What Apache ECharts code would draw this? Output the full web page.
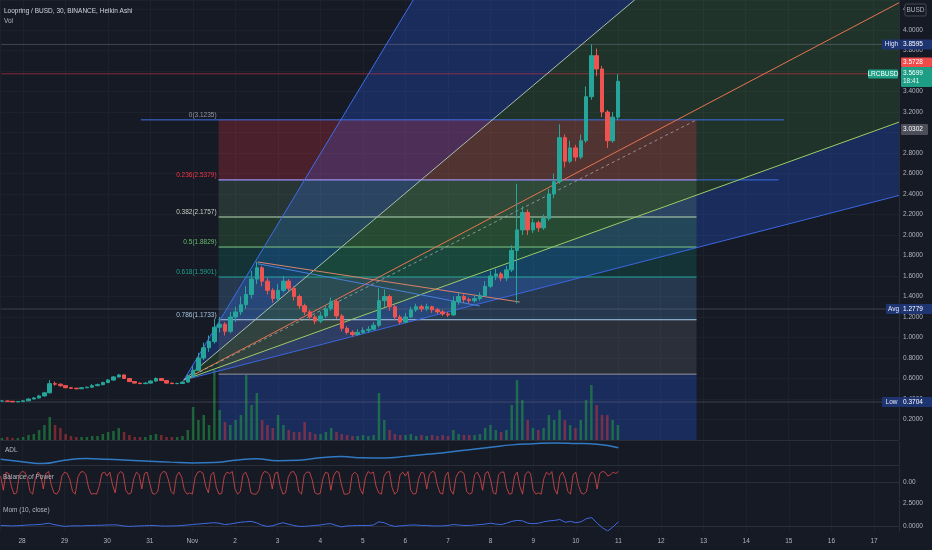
<!DOCTYPE html>
<html><head><meta charset="utf-8">
<script src="https://cdn.jsdelivr.net/npm/echarts@6/dist/echarts.min.js"></script>
<style>html,body{margin:0;padding:0;background:#161a25;}#c{width:932px;height:550px;}</style>
</head><body><div id="c"></div>
<script>
const DAY = 86400000;
const BASE = new Date(2021, 9, 28).getTime();           // Oct 28 2021 00:00
const T = d => BASE + d * DAY;                           // days since Oct 28 -> time
const monthLabels = ['Jan','Feb','Mar','Apr','May','Jun','Jul','Aug','Sep','Oct','Nov','Dec'];

// visible range
const viewStartDay = -0.5164, viewEndDay = 20.587;
const priceMin = 0, priceMax = 4.293, priceInterval = 0.2;

// Heikin Ashi candles, 3h each from Oct 27 12:00 : [open, close, low, high]
const candleStart = new Date(2021, 9, 27, 12).getTime();
const candleStep = 3 * 3600000;
const haCandles = [
[0.38,0.38,0.375,0.385],[0.38,0.378,0.372,0.384],[0.378,0.372,0.370,0.380],[0.372,0.376,0.371,0.379],[0.376,0.382,0.374,0.386],
[0.382,0.40,0.380,0.405],[0.40,0.41,0.398,0.42],[0.41,0.43,0.405,0.44],[0.43,0.46,0.425,0.47],[0.46,0.55,0.455,0.585],
[0.55,0.545,0.53,0.57],[0.545,0.53,0.52,0.55],[0.53,0.51,0.505,0.535],[0.51,0.505,0.50,0.515],[0.505,0.50,0.495,0.51],
[0.50,0.51,0.498,0.515],[0.51,0.515,0.505,0.52],[0.515,0.53,0.51,0.545],[0.53,0.54,0.525,0.55],[0.54,0.56,0.535,0.57],
[0.56,0.585,0.555,0.595],[0.585,0.615,0.58,0.625],[0.615,0.635,0.61,0.645],[0.635,0.60,0.595,0.64],[0.60,0.57,0.565,0.605],
[0.57,0.555,0.55,0.575],[0.555,0.55,0.545,0.56],[0.55,0.555,0.545,0.565],[0.555,0.575,0.55,0.585],[0.575,0.60,0.57,0.61],
[0.60,0.58,0.575,0.605],[0.58,0.555,0.55,0.585],[0.555,0.55,0.545,0.56],[0.55,0.552,0.545,0.558],[0.552,0.565,0.548,0.575],
[0.565,0.62,0.56,0.64],[0.62,0.68,0.61,0.72],[0.68,0.80,0.67,0.85],[0.80,0.90,0.78,0.95],[0.90,0.96,0.86,1.02],
[0.96,1.10,0.94,1.18],[1.10,1.13,1.05,1.20],[1.13,1.06,1.02,1.15],[1.06,1.20,1.04,1.25],[1.20,1.25,1.15,1.30],
[1.25,1.32,1.22,1.40],[1.32,1.42,1.28,1.50],[1.42,1.57,1.38,1.65],[1.57,1.68,1.52,1.74],[1.68,1.55,1.50,1.70],
[1.55,1.46,1.42,1.58],[1.46,1.38,1.34,1.48],[1.38,1.46,1.35,1.52],[1.46,1.55,1.44,1.60],[1.55,1.48,1.45,1.57],
[1.48,1.40,1.36,1.50],[1.40,1.31,1.28,1.42],[1.31,1.25,1.22,1.33],[1.25,1.20,1.17,1.27],[1.20,1.16,1.13,1.22],
[1.16,1.21,1.14,1.25],[1.21,1.28,1.19,1.31],[1.28,1.35,1.26,1.39],[1.35,1.21,1.18,1.37],[1.21,1.09,1.06,1.23],
[1.09,1.05,1.03,1.11],[1.05,1.03,1.01,1.07],[1.03,1.05,1.02,1.08],[1.05,1.07,1.04,1.10],[1.07,1.08,1.05,1.11],
[1.08,1.12,1.07,1.15],[1.12,1.36,1.10,1.48],[1.36,1.40,1.30,1.47],[1.40,1.30,1.26,1.42],[1.30,1.20,1.17,1.32],
[1.20,1.15,1.13,1.22],[1.15,1.20,1.14,1.24],[1.20,1.27,1.19,1.30],[1.27,1.30,1.25,1.33],[1.30,1.28,1.25,1.32],
[1.28,1.30,1.26,1.33],[1.30,1.27,1.24,1.31],[1.27,1.25,1.23,1.29],[1.25,1.23,1.21,1.27],[1.23,1.22,1.20,1.25],
[1.22,1.35,1.21,1.40],[1.35,1.40,1.32,1.44],[1.40,1.37,1.34,1.42],[1.37,1.36,1.33,1.39],[1.36,1.38,1.34,1.41],
[1.38,1.41,1.36,1.44],[1.41,1.50,1.40,1.55],[1.50,1.60,1.48,1.65],[1.60,1.62,1.56,1.67],[1.62,1.58,1.55,1.64],
[1.58,1.66,1.55,1.70],[1.66,1.85,1.64,1.90],[1.85,2.05,1.33,2.50],[2.05,2.22,2.00,2.28],[2.22,2.05,2.00,2.25],
[2.05,2.12,2.02,2.16],[2.12,2.07,2.03,2.14],[2.07,2.16,2.05,2.20],[2.16,2.40,2.14,2.45],[2.40,2.52,2.36,2.60],
[2.52,2.95,2.50,3.08],[2.95,2.72,2.66,2.98],[2.72,2.85,2.70,2.92],[2.85,2.76,2.72,2.88],[2.76,2.92,2.74,2.98],
[2.92,3.35,2.90,3.45],[3.35,3.75,3.32,3.86],[3.75,3.62,3.55,3.82],[3.62,3.20,3.15,3.65],[3.20,2.92,2.85,3.22],
[2.92,3.15,2.90,3.20],[3.15,3.50,3.12,3.57]
];
// volume per candle (M LRC)
const volumes = [
0.2,0.3,0.2,0.2,0.3, 0.5,0.6,1.0,1.5,2.3, 1.5,1.2,0.6,0.4,0.3, 0.3,0.3,0.4,0.4,0.6,
0.8,0.9,1.2,0.8,0.5, 0.3,0.3,0.3,0.5,0.6, 0.5,0.3,0.3,0.3,0.4, 1.0,3.3,2.0,2.5,1.5,
7.0,3.0,1.8,1.5,2.0, 2.5,6.5,3.5,4.7,2.0, 1.5,1.2,2.5,1.5,1.0, 0.8,0.8,1.8,0.8,0.6,
0.6,0.8,1.2,0.8,0.6, 0.5,0.4,0.4,0.5,0.4, 0.5,4.7,2.0,1.0,0.6, 0.5,0.5,0.6,0.4,0.5,
0.4,0.5,0.4,0.5,0.4, 1.0,0.6,0.5,0.5,0.5, 0.6,1.2,1.5,1.0,0.8, 1.0,3.5,6.0,4.0,2.0,
1.2,1.0,1.2,2.5,2.0, 3.0,2.0,1.5,1.2,2.0, 4.0,5.5,3.5,2.5,2.5, 2.0,1.5
];
// Momentum (10, close), per candle
const momValues = [
0.05,0.03,0.0,0.02,0.05,0.1,0.12,0.15,0.2,0.3,
0.15,0.05,-0.05,0.0,0.02,0.0,0.03,0.05,0.06,0.08,
0.1,0.12,0.1,0.0,-0.05,-0.03,0.0,0.02,0.05,0.04,
0.0,-0.02,0.0,0.01,0.05,0.1,0.15,0.2,0.25,0.3,
0.35,0.3,0.15,0.2,0.3,0.4,0.45,0.5,0.35,0.1,
-0.05,0.0,0.2,0.35,0.2,0.05,-0.05,-0.05,0.0,0.05,
0.1,0.2,0.25,0.05,-0.1,0.0,0.02,0.05,0.05,0.05,
0.1,0.45,0.35,0.1,-0.05,0.0,0.05,0.1,0.1,0.05,
0.05,0.0,0.0,0.0,0.05,0.15,0.1,0.05,0.05,0.1,
0.15,0.2,0.3,0.2,0.15,0.3,0.5,0.6,0.55,0.3,
0.25,0.3,0.45,0.55,0.6,0.7,0.4,0.5,0.35,0.45,
0.8,0.9,0.3,-0.2,-0.55,-0.1,0.45
];
// Balance of Power, every 1.5h
const bopStep = 1.5 * 3600000;
const bopValues = [
0.5,-0.6,0.8,0.7,-0.3,-0.9,-0.8,0.6,0.85,0.8,
0.4,-0.7,-0.9,0.3,0.8,0.6,-0.5,0.7,0.85,-0.2,
-0.8,-0.9,-0.6,0.5,0.8,0.7,0.2,-0.7,-0.9,0.4,
0.8,0.85,0.6,-0.4,-0.9,-0.85,-0.9,-0.3,0.7,0.8,
0.5,0.8,-0.2,-0.8,0.6,0.85,0.7,-0.6,-0.9,-0.8,
0.3,0.8,0.6,-0.5,0.7,0.8,-0.1,-0.85,-0.9,-0.7,
0.6,0.85,0.8,0.2,-0.7,-0.9,0.5,0.8,0.4,-0.6,
-0.9,-0.8,-0.9,0.4,0.8,0.85,0.7,-0.3,-0.8,0.6,
0.8,-0.4,-0.9,-0.85,0.5,0.8,0.7,0.85,-0.5,-0.9,
-0.7,0.6,0.8,0.3,-0.8,-0.9,-0.9,-0.6,0.5,0.85,
0.8,0.6,-0.5,0.7,0.8,-0.3,-0.9,-0.8,0.4,0.8,
0.85,0.5,-0.7,-0.9,0.6,0.8,0.8,0.2,-0.8,-0.9,
-0.85,0.3,0.8,0.7,-0.6,0.5,0.85,0.8,-0.2,-0.9,
-0.9,-0.8,0.6,0.8,0.6,-0.5,-0.9,0.4,0.85,0.7,
0.8,-0.3,-0.8,-0.9,0.5,0.8,0.85,-0.4,-0.9,-0.7,
0.6,0.8,0.5,0.85,-0.6,-0.9,-0.85,0.3,0.8,0.7,
-0.5,0.6,0.85,0.8,-0.2,-0.8,-0.9,0.5,0.8,-0.6,
-0.9,0.4,0.8,0.85,0.7,-0.7,-0.9,-0.8,0.6,0.8,
0.4,-0.6,0.7,0.85,0.2,-0.8,-0.9,0.6,0.8,0.8,
-0.4,-0.9,-0.85,0.5,0.8,-0.3,-0.9,0.6,0.85,0.7,
-0.6,-0.9,-0.8,-0.9,0.3,0.8,0.6,0.85,-0.5,-0.9,
0.5,0.8,0.3,-0.7,-0.9,0.6,0.8,-0.2,-0.8,-0.9,
-0.7,0.4,0.8,0.6,-0.5,0.7,0.85,0.8,0.5,0.6,
0.8,0.7,0.85
];
// Accumulation/Distribution line, every 12h (M)
const adlStep = 12 * 3600000;
const adlValues = [6,3.5,1.5,5,6.7,6,5,4,3,2.2,2.5,5,6.5,4.5,5,7.5,8.8,7.5,7.4,9,11.2,13.3,16,18.5,21,22.2,23,22.5,21.7,18];

// price reference values
const highPrice = 3.8595, lastPrice = 3.5728, closePrice = 3.5699, markPrice = 3.0302, avgPrice = 1.2779, lowPrice = 0.3704;

// Fibonacci retracement drawing (days since Oct 28, price)
const fibStartDay = 4.60, fibEndDay = 15.85;
const fibRatios = ['0','0.236','0.382','0.5','0.618','0.786','1'];
const fibPrices = [3.1235,2.5379,2.1757,1.8829,1.5901,1.1733,0.6425];
const fibExtZero = [2.77, 17.91];      // extended horizontal line at level 0
const fibExtQuarter = [4.60, 17.78];   // extended horizontal line at level 0.236

// Fan drawing: origin and the points each ray passes through
const fanOrigin = [3.78, 0.585];
const fanRays = [[9.18,4.293],[14.39,4.293],[20.56,4.254],[20.56,3.093],[20.56,2.380]];
// triangle lines
const pennantLines = [[[5.52,1.737],[11.69,1.346]], [[5.52,1.72],[10.75,1.307]]];

// ---------- styles ----------
const fibLineColors = ['#4a7ce8','#b48ad6','#b9d9b5','#81c784','#26a69a','#a8cdf0','#9598a1'];
const fibFillColors = ['rgba(242,54,69,0.24)','rgba(129,199,132,0.16)','rgba(76,175,80,0.2)','rgba(8,153,129,0.2)','rgba(100,181,246,0.2)','rgba(120,123,134,0.22)','rgba(41,98,255,0.25)'];
const fibLabelColors = ['#9598a1','#f23645','#c8d0c4','#66bb6a','#1fa28c','#a8c4e0',null];
const fanRayColors = ['#3f6de8','#a9bfae','#e8734f','#9ccc65','#3a66e0'];
const FONT = '"Liberation Sans", Arial, sans-serif';

const O = fanOrigin;
const ext = (to, k) => [O[0] + (to[0]-O[0])*k, O[1] + (to[1]-O[1])*k];
const far = fanRays.map(r => ext(r, 1.6));

function fillsRender(params, api) {
  const c = q => api.coord([T(q[0]), q[1]]);
  const ch = [];
  const topY = far[1][1] + 2, rightD = far[4][0] + 2;
  const polys = [
    {pts:[O, far[0], far[1]], color:'rgba(41,98,255,0.25)'},
    {pts:[O, far[1], [rightD, topY], [rightD, far[3][1]], far[3]], color:'rgba(76,175,80,0.17)'},
    {pts:[O, far[3], far[4]], color:'rgba(41,98,255,0.25)'}
  ];
  for (let i = 0; i < fibPrices.length; i++) {
    const top = fibPrices[i], bot = i + 1 < fibPrices.length ? fibPrices[i+1] : priceMin;
    polys.push({pts:[[fibStartDay, top],[fibEndDay, top],[fibEndDay, bot],[fibStartDay, bot]], color: fibFillColors[i]});
  }
  polys.forEach(p => ch.push({type:'polygon', shape:{points:p.pts.map(c)}, style:{fill:p.color}, silent:true}));
  return {type:'group', children: ch};
}

function linesRender(params, api) {
  const c = q => api.coord([T(q[0]), q[1]]);
  const ch = [];
  const seg = (a, b, color, dash, w) => {
    const p1 = c(a), p2 = c(b);
    ch.push({type:'line', shape:{x1:p1[0], y1:p1[1], x2:p2[0], y2:p2[1]},
      style:{stroke:color, lineWidth:w || 1, lineDash: dash || null}, silent:true});
  };
  // info lines across the pane
  seg([viewStartDay, highPrice], [viewEndDay, highPrice], 'rgba(120,123,134,0.45)');
  seg([viewStartDay, lastPrice], [viewEndDay, lastPrice], 'rgba(242,54,69,0.5)');
  seg([viewStartDay, avgPrice], [viewEndDay, avgPrice], 'rgba(120,123,134,0.4)');
  seg([viewStartDay, lowPrice], [viewEndDay, lowPrice], 'rgba(120,123,134,0.4)');
  // extended blue level lines
  seg([fibExtZero[0], fibPrices[0]], [fibExtZero[1], fibPrices[0]], '#3f6fe8');
  seg([fibExtQuarter[0], fibPrices[1]], [fibExtQuarter[1], fibPrices[1]], '#3f6fe8');
  // fib level lines
  for (let i = 1; i < fibPrices.length; i++) seg([fibStartDay, fibPrices[i]], [fibEndDay, fibPrices[i]], fibLineColors[i]);
  // fan rays
  far.forEach((f, i) => seg(O, f, fanRayColors[i]));
  // dashed trend line
  seg(O, [fibEndDay, fibPrices[0]], 'rgba(178,181,190,0.7)', [3, 3]);
  // pennant
  seg(pennantLines[0][0], pennantLines[0][1], '#d9826a');
  seg(pennantLines[1][0], pennantLines[1][1], '#4a7fd8');
  return {type:'group', children: ch};
}

function textsRender(params, api) {
  const ch = [];
  for (let i = 0; i < fibPrices.length; i++) {
    if (!fibLabelColors[i]) continue;
    const p = api.coord([T(fibStartDay), fibPrices[i]]);
    ch.push({type:'text', x: p[0] - 2, y: p[1] - 5, silent:true,
      style:{text: fibRatios[i] + '(' + fibPrices[i].toFixed(4) + ')', fill: fibLabelColors[i],
        font: '6.5px ' + FONT, align:'right', verticalAlign:'middle', textAlign:'right', textVerticalAlign:'middle'}});
  }
  return {type:'group', children: ch};
}

const candleData = haCandles.map((k, i) => [candleStart + i*candleStep, k[0], k[1], k[2], k[3]]);
const volData = volumes.map((v, i) => ({value:[candleStart + i*candleStep, v],
  itemStyle:{color: haCandles[i][1] >= haCandles[i][0] ? 'rgba(34,150,70,0.6)' : 'rgba(200,55,60,0.55)'}}));
const bopData = bopValues.map((v, i) => [candleStart + i*bopStep, v]);
const adlData = adlValues.map((v, i) => [candleStart + i*adlStep, v]);
const momData = momValues.map((v, i) => [candleStart + i*candleStep, v]);

const gridDefs = [
  {left:0, right:33, top:0, height:440},
  {left:0, right:33, top:442, height:23},
  {left:0, right:33, top:467, height:31},
  {left:0, right:33, top:500, height:31}
];
const splitCol = '#1d212c', sepCol = '#2a2e39', labelCol = '#b2b5be';

function xAxisDef(i) {
  return {type:'time', gridIndex:i, min:T(viewStartDay), max:T(viewEndDay),
    minInterval:DAY, maxInterval:DAY,
    splitLine:{show:true, lineStyle:{color:splitCol}},
    axisTick:{show:false}, axisLine:{show:true, lineStyle:{color:sepCol}},
    axisLabel: i === 3 ? {show:true, color:labelCol, fontSize:6.5, fontFamily:FONT, margin:7,
      formatter: v => { const d = new Date(v); return d.getDate() === 1 ? monthLabels[d.getMonth()] : String(d.getDate()); }}
      : {show:false}};
}

const chart = echarts.init(document.getElementById('c'), null, {renderer:'canvas', width:932, height:550});
chart.setOption({
  backgroundColor:'#161a25',
  animation:false,
  grid: gridDefs,
  xAxis: [0,1,2,3].map(xAxisDef),
  yAxis: [
    {type:'value', gridIndex:0, position:'right', min:priceMin, max:priceMax, interval:priceInterval,
      axisLine:{show:true, lineStyle:{color:sepCol}}, axisTick:{show:false},
      axisLabel:{color:labelCol, fontSize:6.5, fontFamily:FONT, margin:4, showMinLabel:false, showMaxLabel:false,
        formatter: v => v.toFixed(4)},
      splitLine:{show:true, lineStyle:{color:splitCol}}},
    {type:'value', gridIndex:0, min:0, max:44, show:false},
    {type:'value', gridIndex:1, position:'right', min:0, max:24, axisLine:{show:true, lineStyle:{color:sepCol}},
      axisTick:{show:false}, axisLabel:{show:false}, splitLine:{show:false}},
    {type:'value', gridIndex:2, position:'right', min:-1.2, max:1.2, axisLine:{show:true, lineStyle:{color:sepCol}},
      axisTick:{show:false}, splitLine:{show:false},
      axisLabel:{color:labelCol, fontSize:6.5, fontFamily:FONT, margin:4, customValues:[0], formatter: v => v.toFixed(2)}},
    {type:'value', gridIndex:3, position:'right', min:-0.55, max:2.82, axisLine:{show:true, lineStyle:{color:sepCol}},
      axisTick:{show:false}, splitLine:{show:false},
      axisLabel:{color:labelCol, fontSize:6.5, fontFamily:FONT, margin:4, customValues:[0, 2.5], formatter: v => v.toFixed(4)}}
  ],
  series: [
    {type:'custom', name:'fills', xAxisIndex:0, yAxisIndex:0, clip:true, z:1, silent:true,
      data:[[T(5), 1]], renderItem: fillsRender},
    {type:'bar', name:'Vol', xAxisIndex:0, yAxisIndex:1, barWidth:2.5, z:2, data: volData, silent:true},
    {type:'custom', name:'drawings', xAxisIndex:0, yAxisIndex:0, clip:true, z:3, silent:true,
      data:[[T(5), 1]], renderItem: linesRender},
    {type:'candlestick', name:'LRCBUSD', xAxisIndex:0, yAxisIndex:0, z:4, barWidth:4,
      encode:{x:0, y:[1,2,3,4]}, data: candleData,
      itemStyle:{color:'#26a69a', color0:'#ef5350', borderColor:'#26a69a', borderColor0:'#ef5350', borderWidth:1}},
    {type:'custom', name:'labels', xAxisIndex:0, yAxisIndex:0, clip:true, z:5, silent:true,
      data:[[T(5), 1]], renderItem: textsRender},
    {type:'line', name:'ADL', xAxisIndex:1, yAxisIndex:2, data: adlData, smooth:true, symbol:'none',
      lineStyle:{color:'#3179c4', width:1.5}},
    {type:'line', name:'Balance of Power', xAxisIndex:2, yAxisIndex:3, data: bopData, symbol:'none',
      lineStyle:{color:'#e04b4b', width:0.8}},
    {type:'line', name:'Mom', xAxisIndex:3, yAxisIndex:4, data: momData, symbol:'none',
      lineStyle:{color:'#3f6be0', width:1}}
  ]
});

// ---------- labels & price badges ----------
const yp = v => chart.convertToPixel({yAxisIndex:0}, v);
const g = [];
const txt = (x, y, s, fill, align, extra) => g.push(Object.assign({type:'text', x:x, y:y, z:100,
  style:{text:s, fill:fill, font:'6.5px ' + FONT, align:align || 'left', verticalAlign:'middle', textAlign:align || 'left', textVerticalAlign:'middle'}}, extra || {}));
const box = (x, y, w, h, fill, stroke) => g.push({type:'rect', z:99, shape:{x:x, y:y, width:w, height:h, r:1},
  style:{fill:fill, stroke: stroke || null, lineWidth: stroke ? 1 : 0}});

txt(4, 11, 'Loopring / BUSD, 30, BINANCE, Heikin Ashi', '#d1d4dc');
txt(4, 21, 'Vol', '#b2b5be');
txt(5, 450, 'ADL', '#b2b5be');
txt(3, 477, 'Balance of Power', '#b2b5be');
txt(3, 510, 'Mom (10, close)', '#b2b5be');

// BUSD currency label
box(905, 4, 21, 12, '#161a25', '#434651');
txt(915.5, 10, 'BUSD', '#b2b5be', 'center');
// High
let y = yp(highPrice);
box(882, y - 5, 19, 10, '#1f3572'); txt(891.5, y, 'High', '#e0e6f5', 'center');
box(901, y - 5, 31, 10, '#1f3572'); txt(903, y, highPrice.toFixed(4), '#ffffff');
// close (teal, two lines) and last (red)
y = yp(closePrice);
const tealTop = y - 7;
box(901, tealTop, 31, 20, '#1e9e85');
txt(903, tealTop + 6, closePrice.toFixed(4), '#ffffff');
txt(903, tealTop + 14, '18:41', '#e6f7f3');
box(901, tealTop - 9.5, 31, 9.5, '#f04a4a'); txt(903, tealTop - 4.7, lastPrice.toFixed(4), '#ffffff');
box(868, y - 4.5, 30, 9, '#1e9e85'); txt(883, y, 'LRCBUSD', '#ffffff', 'center');
// mark
y = yp(markPrice);
box(901, y - 5.5, 27, 11, '#4c4f5a'); txt(903, y, markPrice.toFixed(4), '#ffffff');
// Avg
y = yp(avgPrice);
box(886, y - 5, 15, 10, '#1f3572'); txt(893.5, y, 'Avg', '#e0e6f5', 'center');
box(901, y - 5, 31, 10, '#1f3572'); txt(903, y, avgPrice.toFixed(4), '#ffffff');
// Low
y = yp(lowPrice);
box(882, y - 5, 19, 10, '#1f3572'); txt(891.5, y, 'Low', '#e0e6f5', 'center');
box(901, y - 5, 31, 10, '#1f3572'); txt(903, y, lowPrice.toFixed(4), '#ffffff');

chart.setOption({graphic: g});
</script></body></html>
